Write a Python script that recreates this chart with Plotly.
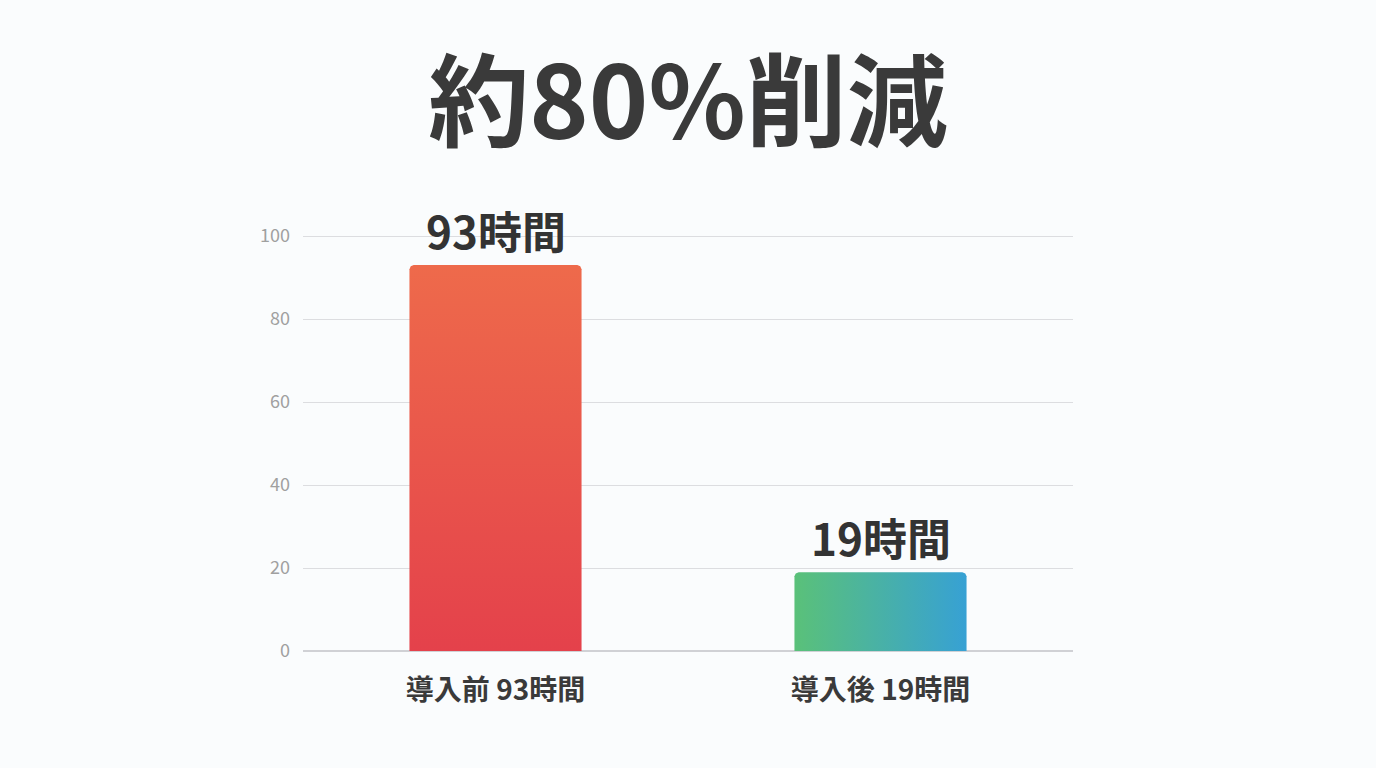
import plotly.graph_objects as go

# Data
categories = ["導入前 93時間", "導入後 19時間"]
hours = [93, 19]
value_labels = ["93時間", "19時間"]
title_text = "約80%削減"
y_ticks = [0, 20, 40, 60, 80, 100]

# Styles
gradients = [
    dict(type="vertical", colorscale=[[0, "#E4414B"], [1, "#EE6A4B"]]),
    dict(type="horizontal", colorscale=[[0, "#5AC179"], [1, "#37A1D4"]]),
]
FONT = "Noto Sans CJK JP"
BAR_W = 0.447

fig = go.Figure()

for i, (v, g) in enumerate(zip(hours, gradients)):
    x0, x1 = i - BAR_W / 2, i + BAR_W / 2
    rx, ry = 0.011, 1.0  # small rounded top corners
    xs = [x0, x1, x1, x1 - rx * 0.3, x1 - rx, x0 + rx, x0 + rx * 0.3, x0, x0]
    ys = [0, 0, v - ry, v - ry * 0.3, v, v, v - ry * 0.3, v - ry, 0]
    fig.add_trace(go.Scatter(
        x=xs, y=ys, mode="lines", fill="toself",
        line=dict(width=0), fillgradient=g,
        hoverinfo="skip", showlegend=False,
    ))
    fig.add_annotation(
        x=i, y=v, text=f"<b>{value_labels[i]}</b>", showarrow=False,
        yanchor="middle", yshift=35,
        font=dict(family=FONT, size=44, color="#333333"),
    )

fig.update_layout(
    width=1376, height=768,
    margin=dict(l=303, r=303, t=234, b=117),
    paper_bgcolor="#FAFCFD", plot_bgcolor="#FAFCFD",
    showlegend=False,
    title=dict(
        text=f"<b>{title_text}</b>", x=0.5, xanchor="center",
        xref="container", yref="container", y=1 - 104 / 768, yanchor="middle",
        font=dict(family=FONT, size=101, color="#3A3A3A"),
    ),
    xaxis=dict(
        range=[-0.5, 1.5], tickvals=[0, 1],
        ticktext=[f"<b>{c}</b>" for c in categories],
        showgrid=False, zeroline=False, showline=False, ticks="",
        tickfont=dict(family=FONT, size=28, color="#3A3A3A"),
        ticklabelstandoff=20, fixedrange=True,
    ),
    yaxis=dict(
        range=[0, 100.5], tickvals=y_ticks,
        showgrid=True, gridcolor="#DCDDE0", gridwidth=1,
        zeroline=True, zerolinecolor="#D0D1D5", zerolinewidth=1.5,
        showline=False, ticks="",
        tickfont=dict(family=FONT, size=18, color="#A0A0A0"),
        ticklabelstandoff=12, fixedrange=True,
    ),
)

fig.write_html(
    "out.html",
    config={"displayModeBar": False},
    post_script="document.body.style.margin='0';document.body.style.background='#FAFCFD';",
)
